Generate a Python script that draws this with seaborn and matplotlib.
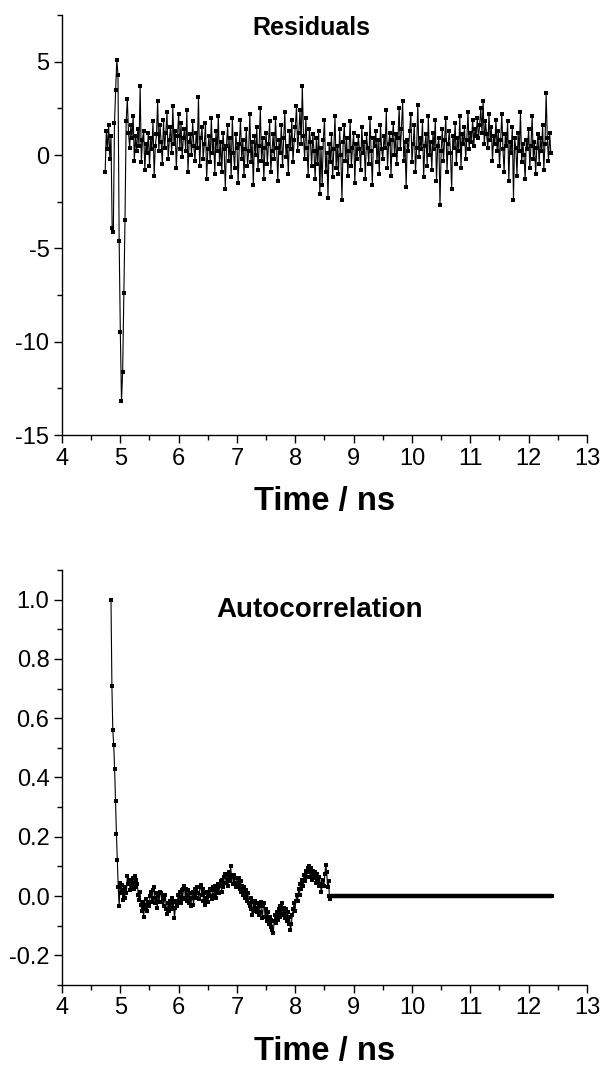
import numpy as np
import pandas as pd
import matplotlib
matplotlib.use("Agg")
import matplotlib.pyplot as plt
from matplotlib.ticker import MultipleLocator
import seaborn as sns

# ---------------- data ----------------
res_t0 = 4.74
res_dt = 0.02
residuals = [
    -0.9, 1.3, 0.3, 1.6, -0.2, 1.0, -3.9, -4.1, 1.7, 3.5, 5.1, 4.3, -4.6, -9.5, -13.2, -11.6, -7.4, -3.5, 1.8,
    3.0, 1.2, 0.4, 1.6, 0.9, 2.1, -0.3, 1.0, 0.2, 1.4, 0.5, 3.7, -0.4, 0.8, 1.3, -0.8, 0.6, 0.1, 1.2, -0.6,
    0.9, 0.3, 1.8, -1.1, 0.5, 1.1, 2.9, 0.2, 1.6, 0.7, -0.5, 1.9, 0.4, 1.2, 2.3, -0.2, 0.8, 1.5, 0.1, 2.6,
    0.6, 1.3, -0.7, 1.0, 2.2, 0.3, 1.7, -0.1, 0.9, 1.4, 0.2, 2.4, -0.9, 0.7, 1.1, 0.0, 1.8, 0.5, -0.3, 1.2,
    0.4, 3.1, -0.6, 0.9, 1.5, -0.2, 0.6, 1.7, -1.3, 0.3, 1.0, -0.4, 2.0, 0.1, 0.8, -1.0, 1.3, 0.2, 2.1, -0.5,
    0.7, -0.9, 1.2, 0.3, -1.8, 0.5, 1.6, -0.3, 0.9, -1.2, 2.0, 0.1, -0.7, 1.1, 0.4, -1.5, 0.6, 1.9, -0.2, 0.8,
    -1.1, 0.3, 1.4, -0.6, 0.2, 2.2, -0.4, 0.7, -1.6, 1.0, 0.0, 1.5, -0.8, 0.5, 2.5, -0.3, 0.9, -1.3, 0.4, 1.2,
    -0.5, 0.6, 1.8, -0.9, 0.2, 1.1, -0.2, 2.0, 0.4, -1.4, 0.8, 0.1, 1.6, -0.6, 0.9, 2.3, -0.1, 0.5, -1.0, 1.3,
    0.3, 1.9, -0.4, 0.8, 1.5, 2.6, 0.2, 1.2, 2.4, 0.6, 3.7, 1.0, -0.2, 2.0, 0.4, -1.1, 1.4, 0.7, -0.6, 1.1,
    0.2, -1.3, 0.9, -0.5, 1.3, -2.1, 0.4, -1.6, 0.8, 1.9, -0.9, 0.1, -2.3, 0.6, -0.4, 1.1, -1.2, 0.3, 2.1, -0.7,
    0.5, -1.0, 1.4, 0.0, -2.4, 0.7, 1.6, -0.3, 0.9, -1.1, 0.2, 1.8, -0.6, 0.4, 1.2, -1.5, 0.6, -0.2, 1.0, 0.3,
    -0.8, 1.5, 0.1, 0.7, -1.3, 1.1, 0.4, -0.5, 2.0, 0.2, -1.6, 0.9, 0.5, 1.3, -0.4, 0.8, -1.0, 1.6, 0.3, -0.2,
    1.0, 0.4, 2.4, -0.7, 0.6, 1.2, -1.1, 0.8, 1.7, 0.0, 1.1, -0.5, 0.9, 2.5, 0.3, 1.4, 2.9, -0.3, 0.7, -1.7,
    0.8, 0.2, 1.3, 2.2, -0.4, 0.6, 1.6, -0.9, 0.4, 2.7, -0.1, 0.9, 0.3, 1.8, -1.2, 0.5, 1.1, -0.6, 2.1, 0.0,
    0.7, -0.8, 1.2, 0.3, 1.9, -1.4, 0.5, 0.9, -2.7, 0.2, 1.4, -0.3, 0.8, 2.0, -0.9, 0.6, 1.3, 0.1, -1.8, 1.0,
    0.4, 1.7, -0.5, 0.9, 0.2, 2.1, -0.7, 1.1, 0.6, 1.5, -0.2, 0.8, 2.3, 0.3, 1.2, 0.7, 1.9, 0.5, 1.4, 1.0,
    2.0, 0.9, 1.6, 2.5, 1.2, 2.9, 0.6, 1.8, 1.1, 0.4, 2.2, 0.8, 1.5, -0.3, 1.0, 0.6, 1.9, 0.2, 1.3, -0.6,
    0.8, 2.2, 0.3, -0.9, 1.1, 0.5, 1.8, -1.4, 0.7, 0.1, 1.5, -2.4, 0.9, 0.4, -1.1, 1.2, 0.2, 2.3, -0.4, 0.6,
    0.0, -1.3, 0.8, 0.3, 1.4, -0.7, 0.5, 2.1, -0.2, 0.7, -1.0, 0.4, 1.1, -0.5, 0.9, 0.2, 1.6, -0.8, 0.6, 3.3,
    0.9, -0.3, 1.2, 0.1,
]

acf_t0 = 4.84
acf_t1 = 8.60
autocorr = [
    1.0, 0.71, 0.56, 0.51, 0.43, 0.32, 0.21, 0.12, 0.03,
    -0.035, 0.045, 0.01, 0.037, -0.013, 0.02, -0.007,
    0.03, 0.01, 0.067, 0.04, 0.055, 0.02, 0.05,
    0.035, 0.06, 0.025, 0.067, 0.03, 0.055,
    0.04, 0.005, -0.013, 0.015, -0.03, -0.05, -0.02,
    -0.07, -0.03, -0.045, -0.01, -0.05, -0.02,
    -0.035, 0.0, 0.015, -0.02, 0.02, 0.032, -0.005,
    -0.025, 0.01, -0.04, 0.0, -0.02, 0.015,
    0.012, -0.02, 0.005, -0.035, -0.01, 0.005, -0.045,
    -0.06, -0.025, -0.05, -0.015, -0.04, -0.005,
    -0.045, -0.02, -0.075, -0.04, -0.015, -0.035, 0.005,
    -0.02, 0.015, -0.025, 0.02, -0.01, 0.025,
    0.035, -0.005, 0.025, -0.015, 0.02, -0.025, 0.01,
    -0.035, -0.005, 0.015, -0.03, 0.005, 0.025,
    -0.005, 0.03, 0.01, -0.01, 0.03, 0.037, 0.005,
    0.025, -0.015, 0.01, -0.03, -0.005, 0.015,
    -0.02, 0.005, 0.025, 0.0, -0.01, 0.02, 0.03,
    0.005, 0.035, -0.005, 0.025, 0.04, 0.01,
    0.035, 0.05, 0.015, 0.055, 0.03, 0.065, 0.075,
    0.045, 0.07, 0.035, 0.08, 0.05, 0.1,
    0.065, 0.07, 0.04, 0.07, 0.045, 0.03, 0.06,
    0.035, 0.06, 0.025, 0.05, 0.015, 0.035,
    0.005, 0.03, -0.005, 0.02, -0.015, 0.01, -0.025,
    -0.035, -0.005, -0.045, -0.065, -0.02, -0.05,
    -0.015, -0.04, -0.055, -0.025, -0.065, -0.035, -0.02,
    -0.055, -0.075, -0.035, -0.025, -0.07, -0.045,
    -0.085, -0.055, -0.095, -0.07, -0.105, -0.08, -0.115,
    -0.126, -0.085, -0.065, -0.09, -0.055, -0.08,
    -0.045, -0.07, -0.035, -0.065, -0.025, -0.06, -0.04,
    -0.075, -0.045, -0.085, -0.055, -0.095, -0.07,
    -0.115, -0.095, -0.065, -0.045, -0.025, -0.05, -0.015,
    0.005, -0.015, 0.025, 0.005, 0.04, 0.025,
    0.055, 0.035, 0.07, 0.05, 0.085, 0.065, 0.095,
    0.1, 0.08, 0.065, 0.095, 0.055, 0.085,
    0.06, 0.08, 0.045, 0.075, 0.05, 0.035, 0.065,
    0.04, 0.015, 0.035, 0.055, 0.035, 0.075,
    0.105, 0.08, 0.03, 0.05, 0.0, -0.01,
]
# flat zero part after 8.6 ns
tail_t0 = 8.62
tail_t1 = 12.40
tail_values = [0.0] * 190

x_ticks = [4, 5, 6, 7, 8, 9, 10, 11, 12, 13]
res_yticks = [-15, -10, -5, 0, 5]
acf_yticks = [-0.2, 0.0, 0.2, 0.4, 0.6, 0.8, 1.0]
res_title = "Residuals"
acf_title = "Autocorrelation"
x_label = "Time / ns"

# ---------------- frames ----------------
res_df = pd.DataFrame({
    "time": res_t0 + res_dt * np.arange(len(residuals)),
    "value": residuals,
})
acf_df = pd.concat([
    pd.DataFrame({"time": np.linspace(acf_t0, acf_t1, len(autocorr)), "value": autocorr}),
    pd.DataFrame({"time": np.linspace(tail_t0, tail_t1, len(tail_values)), "value": tail_values}),
], ignore_index=True)

# ---------------- style ----------------
sns.set_theme(style="ticks")
plt.rcParams["font.family"] = ["Liberation Sans", "DejaVu Sans"]
plt.rcParams.update({
    "text.color": "black",
    "axes.labelcolor": "black",
    "axes.linewidth": 1.0,
    "axes.edgecolor": "black",
    "xtick.color": "black",
    "ytick.color": "black",
    "xtick.labelcolor": "black",
    "ytick.labelcolor": "black",
    "xtick.major.size": 6,
    "ytick.major.size": 6,
    "xtick.minor.size": 3.5,
    "ytick.minor.size": 3.5,
    "xtick.major.width": 1.0,
    "ytick.major.width": 1.0,
    "xtick.minor.width": 1.0,
    "ytick.minor.width": 1.0,
    "xtick.direction": "out",
    "ytick.direction": "out",
})

fig = plt.figure(figsize=(6.06, 10.71), dpi=100)
ax1 = fig.add_axes([0.1023, 0.5938, 0.8663, 0.3922])
ax2 = fig.add_axes([0.1023, 0.0803, 0.8663, 0.3875])

line_kw = dict(color="black", linewidth=0.8, marker="s", markersize=2.8,
               markeredgewidth=0, estimator=None, sort=False, legend=False)

sns.lineplot(data=res_df, x="time", y="value", ax=ax1, **line_kw)
sns.lineplot(data=acf_df, x="time", y="value", ax=ax2, **line_kw)
# thick flat tail
sns.lineplot(data=acf_df[acf_df["time"] > acf_t1], x="time", y="value", ax=ax2,
             color="black", linewidth=3.2, estimator=None, sort=False, legend=False)

ax1.set_xlim(4, 13)
ax1.set_ylim(-15, 7.5)
ax1.set_yticks(res_yticks)
ax1.set_yticklabels([f"{v:g}" for v in res_yticks])
ax1.yaxis.set_minor_locator(MultipleLocator(2.5))

ax2.set_xlim(4, 13)
ax2.set_ylim(-0.3, 1.1)
ax2.set_yticks(acf_yticks)
ax2.set_yticklabels([f"{v:.1f}" for v in acf_yticks])
ax2.yaxis.set_minor_locator(MultipleLocator(0.1))

for ax in (ax1, ax2):
    ax.set_xticks(x_ticks)
    ax.set_xticklabels([str(v) for v in x_ticks])
    ax.xaxis.set_minor_locator(MultipleLocator(0.5))
    ax.tick_params(axis="both", which="major", labelsize=17, pad=3)
    ax.set_xlabel(x_label, fontsize=23.5, fontweight="bold", labelpad=12)
    ax.set_ylabel("")
    ax.spines["top"].set_visible(False)
    ax.spines["right"].set_visible(False)

ax1.text(0.475, 0.969, res_title, transform=ax1.transAxes, ha="center", va="center",
         fontsize=18, fontweight="bold")
ax2.text(0.49, 0.904, acf_title, transform=ax2.transAxes, ha="center", va="center",
         fontsize=20, fontweight="bold")

fig.savefig("out.png", dpi=100, facecolor="white")
